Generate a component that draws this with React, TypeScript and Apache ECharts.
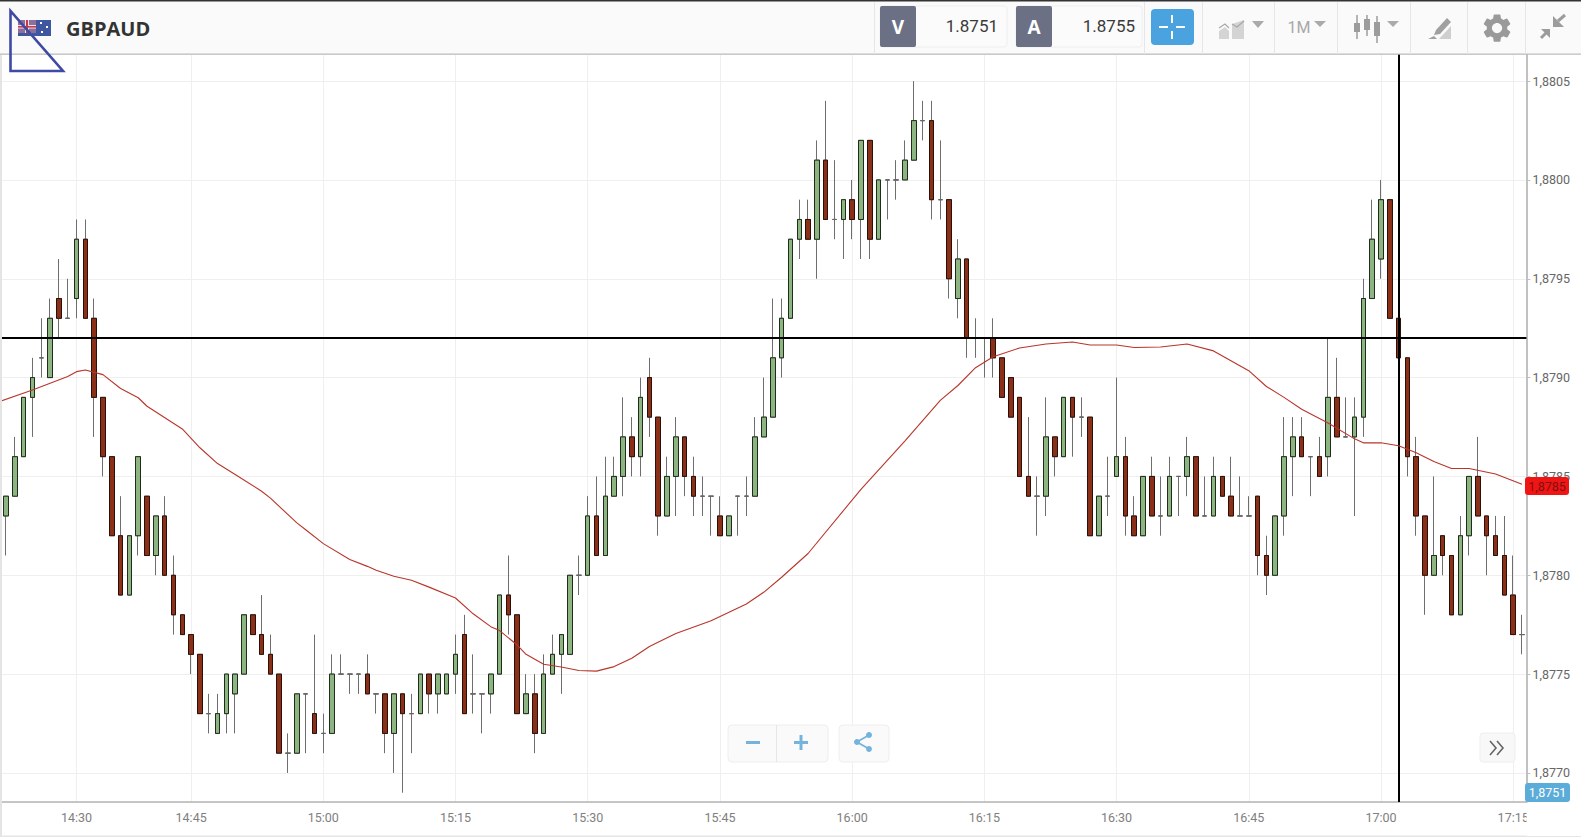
import React, { useEffect, useRef } from "react";
import * as echarts from "echarts";

// All candle values are in ticks (0.0001) above this base price.
const basePrice = 1.877;

const opens = [13,
  13,14,16,19,21,20,24,23,24,27,
  23,19,16,12,9,12,14,11,13,10,
  8,7,6,3,2,3,4,5,8,7,
  6,5,1,1,4,3,2,2,5,5,
  5,5,4,4,2,4,3,3,5,4,
  4,5,7,4,4,4,5,9,8,3,
  4,2,5,6,6,10,10,13,11,14,
  15,17,16,20,18,13,15,17,15,14,
  14,13,12,14,14,14,17,18,21,23,
  27,28,27,31,28,28,29,28,32,27,
  30,30,30,31,33,33,29,29,24,26,
  22,22,22,21,20,19,15,14,14,17,
  16,19,18,18,12,14,15,16,13,12,
  15,13,13,15,15,16,13,13,15,14,
  13,13,14,11,10,13,16,17,16,16,
  16,19,17,17,18,24,26,29,23,21,
  16,13,10,12,11,8,12,15,13,12,
  11,9,7];
const closes = [13,
  14,16,19,20,21,23,23,23,27,23,
  19,16,12,9,12,16,11,13,10,8,
  7,6,3,3,3,5,5,8,7,6,
  5,1,1,4,4,2,2,5,5,5,
  5,4,4,2,4,3,3,5,4,5,
  5,6,3,4,4,5,9,8,3,4,
  2,5,6,7,10,10,13,11,14,15,
  17,16,19,18,13,15,17,15,14,14,
  14,12,13,14,14,17,18,21,23,27,
  28,27,31,28,28,29,28,32,27,30,
  30,30,31,33,33,29,29,25,26,22,
  22,22,21,19,18,15,14,14,17,16,
  19,18,18,12,14,14,16,13,12,15,
  13,13,15,15,16,13,13,15,14,13,
  13,13,11,10,13,16,17,16,16,15,
  19,17,17,18,24,27,29,23,21,16,
  13,10,11,11,8,12,15,13,12,11,
  9,7,7];
const lows = [12,
  11,14,16,17,20,20,22,23,23,23,
  17,15,12,9,9,11,11,10,10,7,
  7,5,3,2,2,2,2,5,7,6,
  5,1,0,1,1,2,1,2,5,4,
  4,4,3,1,0,-1,1,3,3,3,
  4,4,3,3,2,3,5,7,3,3,
  1,2,5,4,6,9,10,11,11,14,
  14,15,15,17,12,13,13,14,13,13,
  12,12,12,12,13,14,17,18,20,23,
  26,27,25,28,27,26,27,26,26,27,
  28,29,30,31,32,28,28,24,23,21,
  21,20,20,19,18,15,14,12,13,15,
  16,16,17,12,12,13,15,12,12,12,
  13,12,13,13,14,13,13,13,14,13,
  13,13,10,9,10,12,14,16,14,15,
  15,17,17,13,17,24,25,23,21,15,
  12,8,10,10,8,8,11,13,10,11,
  9,7,6];
const highs = [13,
  14,17,19,21,23,24,26,25,28,28,
  24,19,16,14,12,16,14,13,14,11,
  8,7,6,4,4,5,5,8,8,9,
  7,5,2,4,4,7,3,6,6,5,
  5,6,4,4,4,4,4,5,5,5,
  5,7,8,6,4,5,9,11,8,5,
  5,6,7,7,10,11,14,15,16,16,
  19,18,20,21,18,16,18,17,16,15,
  14,14,13,14,15,18,20,24,24,27,
  29,29,32,34,31,29,30,32,32,30,
  30,31,32,35,34,34,32,29,27,26,
  23,22,23,21,20,19,18,15,19,17,
  19,19,19,18,14,16,20,17,14,15,
  16,15,16,15,17,16,15,16,15,16,
  15,14,14,12,13,18,18,18,16,17,
  22,21,19,19,25,29,30,29,23,21,
  17,13,15,12,11,13,15,17,13,13,
  13,11,8];

// Moving average, read at these candles (ticks above the base price).
const maCandle = [0,4,8,9,10,12,14,16,17,21,23,25,27,30,31,34,35,37,40,42,43,45,47,49,52,54,56,57,59,60,62,64,66,68,70,72,74,77,81,85,87,89,92,98,103,107,109,111,113,116,119,122,124,127,129,132,135,138,142,144,146,148,151,154,155,157,159,161,163,165,167,170,173];
const maTicks = [18.75,19.37,20.05,20.3,20.38,20.15,19.45,18.98,18.55,17.4,16.45,15.65,15.1,14.25,13.9,12.65,12.3,11.6,10.8,10.45,10.25,9.95,9.75,9.4,8.85,8.05,7.4,7.2,6.47,6.0,5.5,5.36,5.18,5.15,5.38,5.8,6.4,7.05,7.7,8.55,9.15,9.9,11.1,14.35,16.8,18.85,19.6,20.5,21.05,21.5,21.7,21.8,21.65,21.65,21.52,21.55,21.7,21.35,20.35,19.55,19.0,18.4,17.7,16.9,16.7,16.7,16.55,16.2,15.75,15.4,15.4,15.12,14.6];

const timeLabels = ["14:30","14:45","15:00","15:15","15:30","15:45","16:00","16:15","16:30","16:45","17:00","17:15"];
const timeLabelCandles = [9,22,37,52,67,82,97,112,127,142,157,172];

const crosshairPrice = 1.8792;
const crosshairCandle = 159;
const symbolName = "GBPAUD";
const bidPrice = "1.8751";
const askPrice = "1.8755";
const lastClose = "1,8785";
const bidTag = "1,8751";
const intervalName = "1M";

const toPrice = (t: number) => +(basePrice + t / 10000).toFixed(6);

const GEAR = "M19.14 12.94c.04-.3.06-.61.06-.94 0-.32-.02-.64-.07-.94l2.03-1.58a.49.49 0 0 0 .12-.61l-1.92-3.32a.488.488 0 0 0-.59-.22l-2.39.96c-.5-.38-1.03-.7-1.62-.94l-.36-2.54a.484.484 0 0 0-.48-.41h-3.84c-.24 0-.43.17-.47.41l-.36 2.54c-.59.24-1.13.57-1.62.94l-2.39-.96c-.22-.08-.47 0-.59.22L2.74 8.87c-.12.21-.08.47.12.61l2.03 1.58c-.05.3-.09.63-.09.94s.02.64.07.94l-2.03 1.58a.49.49 0 0 0-.12.61l1.92 3.32c.12.22.37.29.59.22l2.39-.96c.5.38 1.03.7 1.62.94l.36 2.54c.05.24.24.41.48.41h3.84c.24 0 .44-.17.47-.41l.36-2.54c.59-.24 1.13-.56 1.62-.94l2.39.96c.22.08.47 0 .59-.22l1.92-3.32c.12-.22.07-.47-.12-.61l-2.01-1.58zM12 15.6c-1.98 0-3.6-1.62-3.6-3.6s1.62-3.6 3.6-3.6 3.6 1.62 3.6 3.6-1.62 3.6-3.6 3.6z";
const SHARE = "M18 16.08c-.76 0-1.44.3-1.96.77L8.91 12.7c.05-.23.09-.46.09-.7s-.04-.47-.09-.7l7.05-4.11c.54.5 1.25.81 2.04.81 1.66 0 3-1.34 3-3s-1.34-3-3-3-3 1.34-3 3c0 .24.04.47.09.7L8.04 9.81C7.5 9.31 6.79 9 6 9c-1.66 0-3 1.34-3 3s1.34 3 3 3c.79 0 1.5-.31 2.04-.81l7.12 4.16c-.05.21-.08.43-.08.65 0 1.61 1.31 2.92 2.92 2.92 1.61 0 2.92-1.31 2.92-2.92s-1.31-2.92-2.92-2.92z";
echarts.graphic.registerShape("gearIcon", echarts.graphic.extendPath(GEAR, {}) as any);
echarts.graphic.registerShape("shareIcon", echarts.graphic.extendPath(SHARE, {}) as any);

const Z = 100;
const rect = (x: number, y: number, w: number, h: number, fill: string, extra: any = {}) => ({
  type: "rect", z: Z, silent: true, shape: { x, y, width: w, height: h, r: extra.r || 0 },
  style: { fill, stroke: extra.stroke, lineWidth: extra.lineWidth || 0 },
});
const txt = (x: number, y: number, text: string, size: number, fill: string, extra: any = {}) => ({
  type: "text", z: Z + 1, silent: true, x, y,
  style: { text, fontSize: size, fill, fontFamily: extra.font || "Roboto", fontWeight: extra.weight || 400, align: extra.align || "center", verticalAlign: "middle" },
});
const poly = (points: number[][], fill: string) => ({
  type: "polygon", z: Z + 1, silent: true, shape: { points }, style: { fill },
});
const pline = (points: number[][], stroke: string, lineWidth: number) => ({
  type: "polyline", z: Z + 1, silent: true, shape: { points }, style: { stroke, lineWidth, fill: "none" },
});

function chromeElements(): any[] {
  const grey = "#9c9c9c";
  const els: any[] = [
    // page edges
    rect(0, 54, 2, 783, "#e4e4e4"),
    rect(0, 835.5, 1581, 1.5, "#e6e6e6"),
    rect(1526.6, 803, 54.4, 33, "#ffffff"),
    // header
    rect(0, 0, 1581, 54, "#fafafa"),
    rect(0, 0, 1581, 1.5, "#333333"),
    rect(0, 53.5, 1581, 1.2, "#bdbdbd"),
    txt(66, 28, symbolName, 20, "#333333", { font: "Open Sans", weight: 700, align: "left" }),
    // flag
    rect(18, 20, 33, 16, "#3f57a0"),
    rect(18, 20, 18, 13, "#8d6f9e"),
    rect(25, 20, 4, 13, "#e8e2e8"),
    rect(18, 25, 18, 3.5, "#e8e2e8"),
    rect(26, 20, 2, 13, "#c83a4a"),
    rect(18, 26, 18, 1.6, "#c83a4a"),
    rect(40, 22, 2, 2, "#ffffff"),
    rect(46, 26, 2, 2, "#ffffff"),
    rect(41, 31, 2, 2, "#ffffff"),
    rect(30, 33, 2, 2, "#ffffff"),
  ];
  // dividers
  [874, 1144, 1202, 1274, 1337, 1410, 1467, 1525].forEach((x) => els.push(rect(x, 2, 1, 52, "#e6e6e6")));
  // bid / ask boxes
  els.push(
    rect(880, 6, 127, 41, "#fbfbfb", { r: 3, stroke: "#eeeeee", lineWidth: 1 }),
    rect(880, 6, 36, 41, "#6c7085", { r: 2 }),
    txt(898, 27, "V", 19, "#ffffff", { font: "Open Sans", weight: 700 }),
    txt(998, 26, bidPrice, 17, "#3a3a3a", { align: "right" }),
    rect(1016, 6, 126, 41, "#fbfbfb", { r: 3, stroke: "#eeeeee", lineWidth: 1 }),
    rect(1016, 6, 36, 41, "#6c7085", { r: 2 }),
    txt(1034, 27, "A", 19, "#ffffff", { font: "Open Sans", weight: 700 }),
    txt(1135, 26, askPrice, 17, "#3a3a3a", { align: "right" }),
    // crosshair button
    rect(1151, 9, 43, 36, "#4aa3df", { r: 4 }),
    rect(1171, 15, 2, 8, "#ffffff"),
    rect(1171, 31, 2, 8, "#ffffff"),
    rect(1159, 26, 9, 2, "#ffffff"),
    rect(1176, 26, 9, 2, "#ffffff"),
  );
  // chart type icon
  els.push(
    poly([[1219, 39], [1219, 31], [1225, 27], [1229, 31], [1229, 39]], "#d4d4d4"),
    poly([[1232, 39], [1232, 24], [1244, 20], [1244, 39]], "#d4d4d4"),
    pline([[1219, 28], [1225, 24], [1229, 28]], "#a8a8a8", 1.2),
    pline([[1232, 24], [1237, 27], [1244, 21]], "#a8a8a8", 1.2),
    poly([[1252, 21], [1264, 21], [1258, 28]], "#aaaaaa"),
    txt(1299, 27, intervalName, 16, "#a8a8a8"),
    poly([[1314, 21], [1326, 21], [1320, 27]], "#aaaaaa"),
  );
  // candle type icon
  [[1357, 23, 32, 15, 39], [1367, 19, 30, 15, 36], [1377, 22, 36, 16, 43]].forEach(([x, t, b, wt, wb]) => {
    els.push(rect(x - 0.75, wt, 1.5, wb - wt, grey), rect(x - 3, t, 6, b - t, grey));
  });
  els.push(poly([[1387, 21], [1399, 21], [1393, 27]], "#aaaaaa"));
  // draw icon
  els.push(
    poly([[1436, 30], [1447, 18], [1451, 22], [1440, 34], [1434, 35]], "#a0a0a0"),
    poly([[1428, 39], [1434, 36], [1437, 39]], "#a0a0a0"),
    poly([[1439, 39], [1451, 26], [1451, 39]], "#cfcfcf"),
  );
  // gear
  els.push({ type: "gearIcon", z: Z + 1, silent: true, x: 1480, y: 11, scaleX: 1.42, scaleY: 1.42, style: { fill: "#9a9a9a" } });
  // collapse arrows
  els.push(
    poly([[1553, 27], [1553, 16], [1564, 27]], grey),
    pline([[1558, 21], [1565, 15]], grey, 3),
    poly([[1550, 29], [1541, 29], [1550, 38]], grey),
    pline([[1546, 33], [1541, 38]], grey, 3),
  );
  // annotation triangle
  els.push({
    type: "polygon", z: Z + 2, silent: true, shape: { points: [[10.5, 11], [10.5, 71], [63, 71]] },
    style: { fill: "none", stroke: "#3f4aa3", lineWidth: 2.6 },
  });
  // zoom controls
  els.push(
    rect(728, 725, 100, 37, "#fafafa", { r: 4, stroke: "#eeeeee", lineWidth: 1 }),
    rect(776, 725, 1, 37, "#e6e6e6"),
    rect(746, 741, 14, 3, "#74b4dc"),
    rect(794, 741, 14, 3, "#74b4dc"),
    rect(799.5, 735, 3, 15, "#74b4dc"),
    rect(839, 725, 50, 37, "#fafafa", { r: 4, stroke: "#eeeeee", lineWidth: 1 }),
    { type: "shareIcon", z: Z + 1, silent: true, x: 851, y: 730, scaleX: 1, scaleY: 1, style: { fill: "#74b4dc" } },
    rect(1480, 733, 35, 29, "#f8f8f8", { r: 3, stroke: "#eeeeee", lineWidth: 1 }),
    pline([[1490, 741], [1496, 748], [1490, 755]], "#666666", 1.6),
    pline([[1497, 741], [1503, 748], [1497, 755]], "#666666", 1.6),
  );
  // price tags
  els.push(
    rect(1525, 477, 44, 18, "#f01414", { r: 3 }),
    txt(1547, 486.5, lastClose, 12.5, "#7c1212"),
    rect(1525, 783, 45, 19, "#5bacd8", { r: 3 }),
    txt(1547.5, 792.5, bidTag, 12.5, "#ffffff"),
  );
  return els;
}

export default function App() {
  const ref = useRef<HTMLDivElement>(null);
  useEffect(() => {
    document.body.style.margin = "0";
    const chart = echarts.init(ref.current!, undefined, { renderer: "svg" });
    const categories = opens.map((_, i) => String(i));
    const isTick = (i: number) => timeLabelCandles.includes(i);
    const candleData = opens.map((o, i) => [toPrice(o), toPrice(closes[i]), toPrice(lows[i]), toPrice(highs[i])]);
    const bodyData = opens.map((o, i) => [
      toPrice(o), toPrice(closes[i]),
      toPrice(Math.min(o, closes[i])), toPrice(Math.max(o, closes[i])),
    ]);
    const maData = maCandle.map((c, i) => [c, toPrice(maTicks[i])]);
    const up = "#8db582";
    const down = "#8a2f18";
    chart.setOption({
      animation: false,
      backgroundColor: "#ffffff",
      // The chart's box begins 8px left of the page, so the first, cut-off candle can fall outside the page.
      grid: { left: 0.8, top: 54, width: 1533.6, height: 748, containLabel: false },
      xAxis: {
        type: "category",
        data: categories,
        boundaryGap: true,
        axisLine: { lineStyle: { color: "#b5b5b5", width: 1.5 } },
        axisTick: { alignWithLabel: true, length: 6, interval: (i: number) => isTick(i), lineStyle: { color: "#b5b5b5" } },
        axisLabel: {
          interval: (i: number) => isTick(i),
          formatter: (_v: string, i: number) => timeLabels[timeLabelCandles.indexOf(i)] ?? "",
          color: "#808080", fontFamily: "Roboto", fontSize: 12.5, margin: 9, hideOverlap: false,
        },
        splitLine: { show: true, alignWithLabel: true, interval: (i: number) => isTick(i), lineStyle: { color: "#efefef", width: 1 } },
      },
      yAxis: {
        type: "value",
        position: "right",
        scale: true,
        min: 1.876853,
        max: 1.880637,
        splitNumber: 8,
        minInterval: 0.0005,
        maxInterval: 0.0005,
        axisLine: { show: true, lineStyle: { color: "#adadad", width: 1.5 } },
        axisTick: { show: true, length: 4, lineStyle: { color: "#c0c0c0" } },
        axisLabel: {
          showMinLabel: false, showMaxLabel: false,
          formatter: (v: number) => v.toFixed(4).replace(".", ","),
          color: "#666666", fontFamily: "Roboto", fontSize: 12.5, margin: 6,
        },
        splitLine: { show: true, lineStyle: { color: "#efefef", width: 1 } },
      },
      series: [
        {
          type: "candlestick", name: "range", data: candleData, barWidth: 5, z: 2, silent: true,
          itemStyle: { color: up, color0: down, borderColor: "#6e6e6e", borderColor0: "#6e6e6e", borderColorDoji: "#6e6e6e", borderWidth: 1 },
        },
        {
          type: "candlestick", name: "body", data: bodyData, barWidth: 5, z: 3, silent: true,
          itemStyle: { color: up, color0: down, borderColor: "#1f2d1a", borderColor0: "#2c1008", borderColorDoji: "#666666", borderWidth: 1 },
        },
        {
          type: "line", name: "MA", data: maData, showSymbol: false, symbol: "none", smooth: false, z: 5, silent: true,
          lineStyle: { color: "#b8352b", width: 1.1 },
          markLine: {
            silent: true, symbol: "none", animation: false, precision: 6, label: { show: false },
            lineStyle: { color: "#000000", width: 2, type: "solid" },
            data: [{ yAxis: crosshairPrice }, { xAxis: crosshairCandle }],
          },
        },
      ],
      graphic: { elements: [{ type: "group", x: 8, y: 0, children: chromeElements() }] },
    });
    return () => chart.dispose();
  }, []);
  return <div ref={ref} style={{ position: "absolute", left: -8, top: 0, width: 1589, height: 837, background: "#fff" }} />;
}
